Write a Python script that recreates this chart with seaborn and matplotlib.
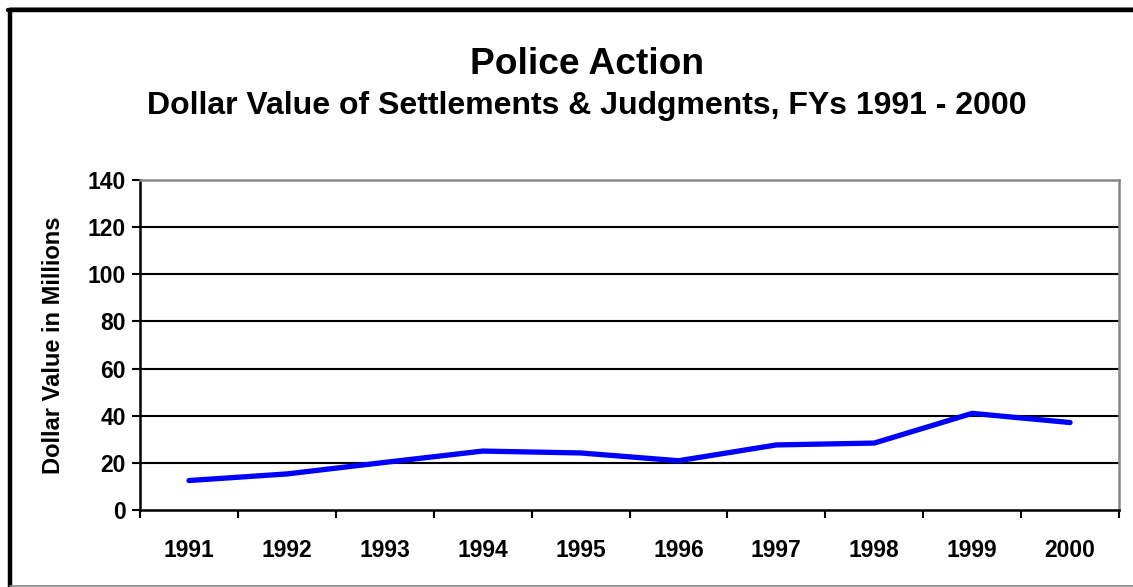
import numpy as np
import pandas as pd
import seaborn as sns
import matplotlib.pyplot as plt
from matplotlib.lines import Line2D

YEARS = ["1991", "1992", "1993", "1994", "1995", "1996", "1997", "1998", "1999", "2000"]
VALUES = [12.5, 15.3, 20.2, 25.0, 24.2, 20.9, 27.6, 28.4, 41.0, 37.1]
Y_TICKS = [0, 20, 40, 60, 80, 100, 120, 140]

sns.set_theme(style="white")
plt.rcParams["font.family"] = ["Liberation Sans", "DejaVu Sans"]
plt.rcParams["font.weight"] = "bold"
plt.rcParams["text.color"] = "black"
plt.rcParams["axes.labelcolor"] = "black"
plt.rcParams["xtick.color"] = "black"
plt.rcParams["ytick.color"] = "black"

W, H = 1133, 587
fig = plt.figure(figsize=(W / 100, H / 100), dpi=100)
ax = fig.add_axes([140 / W, 1 - 510 / H, (1119 - 140) / W, (510 - 180) / H])

df = pd.DataFrame({"year": YEARS, "value": VALUES})
sns.lineplot(data=df, x="year", y="value", ax=ax, color="#0000FF",
             linewidth=3.8, solid_capstyle="round", solid_joinstyle="round")

ax.set_xlim(-0.5, len(YEARS) - 0.5)
ax.set_ylim(0, 140)
ax.set_yticks(Y_TICKS)
ax.set_yticklabels([str(t) for t in Y_TICKS], fontsize=16.5, fontweight="bold")
ax.set_xticks(range(len(YEARS)))
ax.set_xticklabels(YEARS, fontsize=16.5, fontweight="bold")
ax.set_xticks(np.arange(-0.5, len(YEARS), 1.0), minor=True)
ax.tick_params(axis="x", which="major", length=0, pad=21)
ax.tick_params(axis="x", which="minor", length=6, width=1.5, color="black",
               direction="out", bottom=True)
ax.tick_params(axis="y", which="major", length=6, width=1.5, color="black",
               direction="out", pad=4, left=True)

for y in Y_TICKS[1:-1]:
    ax.axhline(y, color="black", linewidth=1.5, zorder=1)

for side in ["left", "bottom"]:
    ax.spines[side].set_color("black")
    ax.spines[side].set_linewidth(1.8)
for side in ["top", "right"]:
    ax.spines[side].set_color("#888888")
    ax.spines[side].set_linewidth(1.8)

ax.set_xlabel("")
ax.set_ylabel("Dollar Value in Millions", fontsize=17, fontweight="bold")
ax.yaxis.set_label_coords(-0.077, 0.5)

fig.text(587 / W, 1 - 64 / H, "Police Action", ha="center", va="center",
         fontsize=26.7, fontweight="bold")
fig.text(587 / W, 1 - 106 / H, "Dollar Value of Settlements & Judgments, FYs 1991 - 2000",
         ha="center", va="center", fontsize=23, fontweight="bold")

# chart area border: thick black top/left, thin grey bottom
fig.add_artist(Line2D([9.5 / W, 1], [1 - 7 / H, 1 - 7 / H], transform=fig.transFigure,
                      color="#999999", linewidth=0.8))
fig.add_artist(Line2D([9.5 / W, 9.5 / W], [1 - 10 / H, 0], transform=fig.transFigure,
                      color="black", linewidth=3.2))
fig.add_artist(Line2D([8 / W, 1], [1 - 10 / H, 1 - 10 / H], transform=fig.transFigure,
                      color="black", linewidth=3.2))
fig.add_artist(Line2D([10 / W, 1], [1.3 / H, 1.3 / H], transform=fig.transFigure,
                      color="#888888", linewidth=1.2))

fig.savefig("out.png", dpi=100)
